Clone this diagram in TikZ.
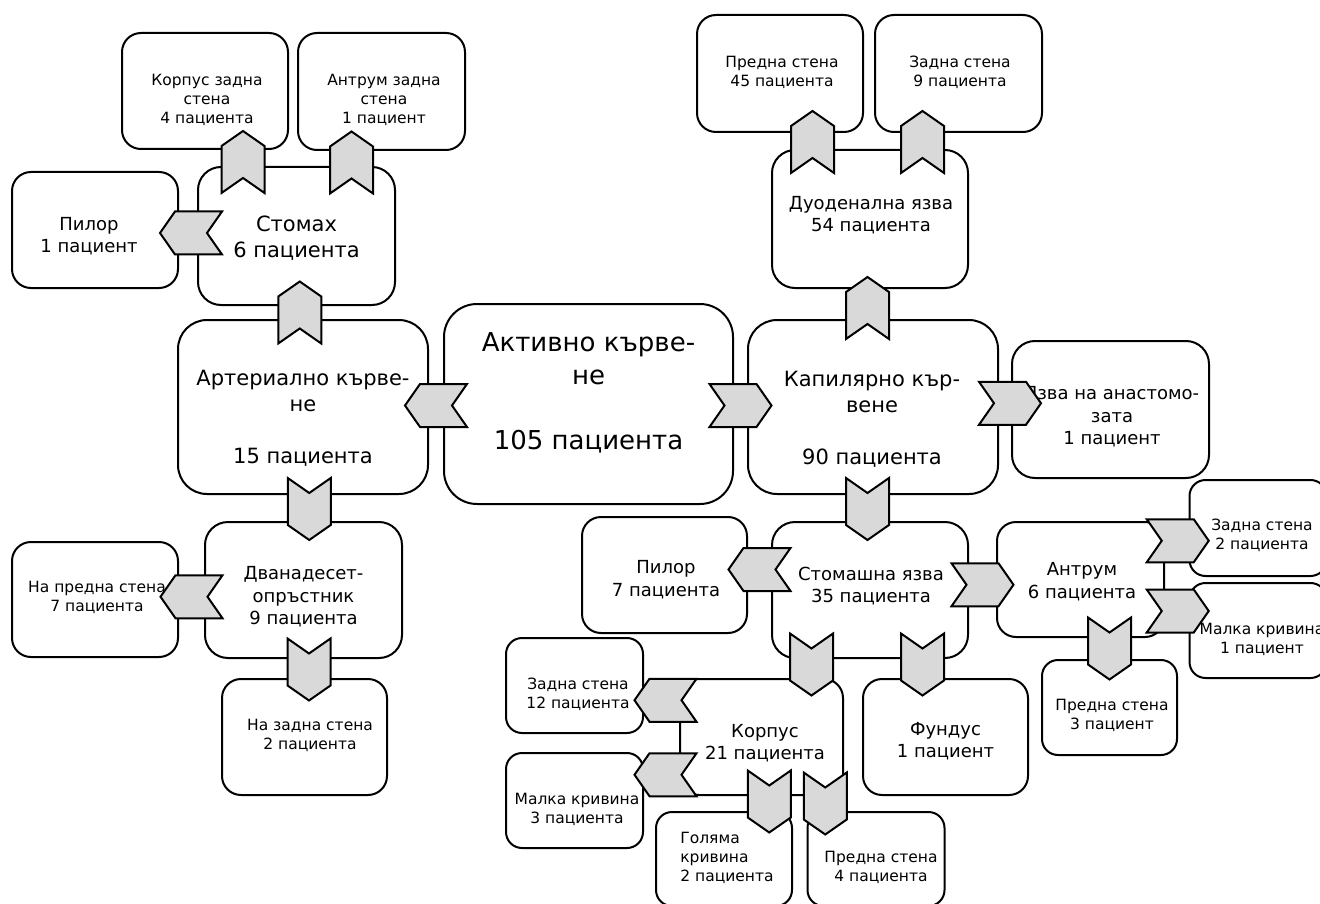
\documentclass[tikz,border=0pt]{standalone}
\usepackage{fontspec}
\setmainfont{DejaVu Sans}
\usetikzlibrary{calc}

\begin{document}
\begin{tikzpicture}[
    x=1pt, y=-1pt,
    box/.style={draw, line width=2pt, fill=white, rounded corners=19pt, minimum width=166pt, minimum height=116pt},
    bigbox/.style={box, rounded corners=29pt, minimum width=250pt, minimum height=174pt},
    midbox/.style={box, rounded corners=23pt, minimum width=197pt, minimum height=137pt},
    smallbox/.style={box, rounded corners=16pt, minimum width=137pt, minimum height=95pt},
    sm/.style={align=center, inner sep=0pt, font=\fontsize{15.5}{19}\selectfont},
    md/.style={align=center, inner sep=0pt, font=\fontsize{18}{22.5}\selectfont},
    lg/.style={align=center, inner sep=0pt, font=\fontsize{21}{26}\selectfont},
    xl/.style={align=center, inner sep=0pt, font=\fontsize{26}{32.5}\selectfont},
    chev/.pic={\draw[line width=2pt, fill=gray!30] (-31,-21.5) -- (16,-21.5) -- (31,0) -- (16,21.5) -- (-31,21.5) -- (-16,0) -- cycle;}
]
\useasboundingbox (0,0) rectangle (1320,904);

% boxes
\node[box, minimum width=289pt, minimum height=200pt, rounded corners=33pt] (act) at (588.5,404) {};
\node[bigbox] (art) at (303,407) {};
\node[bigbox] (cap) at (873,407) {};
\node[midbox, minimum height=138pt] (stom) at (296.5,236) {};
\node[box] (pilor1) at (95,230) {};
\node[box] (kzs) at (205,91) {};
\node[box, minimum width=167pt, minimum height=117pt] (azs) at (381.5,91.5) {};
\node[midbox, minimum height=136pt] (duod12) at (303.5,590) {};
\node[box, minimum height=115pt] (npred) at (95,599.5) {};
\node[box, minimum width=165pt] (nzad) at (304.5,737) {};
\node[midbox, minimum width=196pt, minimum height=138pt] (duo) at (870,219) {};
\node[box, minimum height=117pt] (pred45) at (780,73.5) {};
\node[box, minimum width=167pt, minimum height=117pt] (zad9) at (958.5,73.5) {};
\node[midbox] (anast) at (1110.5,409.5) {};
\node[midbox, minimum width=196pt, minimum height=136pt] (stomulc) at (870,590) {};
\node[box, minimum width=165pt] (pilor7) at (664.5,575) {};
\node[box, minimum width=167pt, minimum height=115pt] (antrum) at (1080.5,579.5) {};
\node[smallbox, minimum height=96pt] (zad2) at (1258,528) {};
\node[smallbox] (malka1) at (1258,630.5) {};
\node[smallbox, minimum width=135pt] (pred3) at (1109.5,707.5) {};
\node[box, minimum width=165pt] (fundus) at (945.5,737) {};
\node[box, minimum width=163pt] (korpus) at (761.5,737) {};
\node[smallbox] (zad12) at (574.5,685.5) {};
\node[smallbox] (malka3) at (574.5,800.5) {};
\node[smallbox, minimum width=136pt, minimum height=94pt] (golyama) at (724,859) {};
\node[smallbox, minimum height=94pt] (pred4) at (876,859) {};

% texts
\node[xl] (act-t) at ($(act)+(0,-11)$) {Активно кърве-\\не\\[32.5pt]105 пациента};
\node[lg] (art-t) at ($(art)+(0,11.5)$) {Артериално кърве-\\не\\[26pt]15 пациента};
\node[lg] (cap-t) at ($(cap)+(-1,12)$) {Капилярно кър-\\вене\\[26pt]90 пациента};
\node[lg] (stom-t) at ($(stom)+(0,2.5)$) {Стомах\\6 пациента};
\node[md] (pilor1-t) at ($(pilor1)+(-6,6)$) {Пилор\\1 пациент};
\node[sm] (kzs-t) at ($(kzs)+(2,9)$) {Корпус задна\\стена\\4 пациента};
\node[sm] (azs-t) at ($(azs)+(2.5,8.5)$) {Антрум задна\\стена\\1 пациент};
\node[md] (duod12-t) at ($(duod12)+(0,7)$) {Дванадесет-\\опръстник\\9 пациента};
\node[sm] (npred-t) at ($(npred)+(2,-2)$) {На предна стена\\7 пациента};
\node[sm] (nzad-t) at ($(nzad)+(5.5,-1.5)$) {На задна стена\\2 пациента};
\node[md] (duo-t) at ($(duo)+(1,-4)$) {Дуоденална язва\\54 пациента};
\node[sm] (pred45-t) at ($(pred45)+(2,-1)$) {Предна стена\\45 пациента};
\node[sm] (zad9-t) at ($(zad9)+(1.5,-1)$) {Задна стена\\9 пациента};
\node[md] (anast-t) at ($(anast)+(1.5,7.5)$) {Язва на анастомо-\\зата\\1 пациент};
\node[md] (stomulc-t) at ($(stomulc)+(1,-4)$) {Стомашна язва\\35 пациента};
\node[md] (pilor7-t) at ($(pilor7)+(1.5,4.5)$) {Пилор\\7 пациента};
\node[md] (antrum-t) at ($(antrum)+(1.5,2)$) {Антрум\\6 пациента};
\node[sm] (zad2-t) at ($(zad2)+(4,7.5)$) {Задна стена\\2 пациента};
\node[sm] (malka1-t) at ($(malka1)+(4,9)$) {Малка кривина\\1 пациент};
\node[sm] (pred3-t) at ($(pred3)+(2.5,8)$) {Предна стена\\3 пациент};
\node[md] (fundus-t) at ($(fundus)+(0,4)$) {Фундус\\1 пациент};
\node[md] (korpus-t) at ($(korpus)+(3.5,6)$) {Корпус\\21 пациента};
\node[sm] (zad12-t) at ($(zad12)+(3.5,9)$) {Задна стена\\12 пациента};
\node[sm] (malka3-t) at ($(malka3)+(2.5,8.5)$) {Малка кривина\\3 пациента};
\node[sm, align=left] (golyama-t) at ($(golyama)+(3,-1)$) {Голяма\\кривина\\2 пациента};
\node[sm] (pred4-t) at ($(pred4)+(5,8.5)$) {Предна стена\\4 пациента};

% chevrons
\pic[rotate=180] at ($(act.west)!.5!(art.east)$) {chev};
\pic at ($(act.east)!.5!(cap.west)$) {chev};
\pic at ($(cap.east)!.5!(anast.west)+(5,-5)$) {chev};
\pic[rotate=90] at ($(art.north)!.5!(stom.south)$) {chev};
\pic[rotate=180] at ($(stom.west)!.5!(pilor1.east)+(3,0)$) {chev};
\pic[rotate=90] at ($(stom.north west)!.5!(kzs.south east)+(0,4)$) {chev};
\pic[rotate=90] at ($(stom.north east)!.5!(azs.south west)+(5,4)$) {chev};
\pic[rotate=-90] at ($(art.south)!.5!(duod12.north)+(6,1)$) {chev};
\pic[rotate=180] at ($(duod12.west)!.5!(npred.east)+(0,2)$) {chev};
\pic[rotate=-90] at ($(duod12.south)!.5!(nzad.north)+(5,1)$) {chev};
\pic[rotate=90] at ($(cap.north)!.5!(duo.south)+(-4,4)$) {chev};
\pic[rotate=90] at ($(duo.north west)!.5!(pred45.south east)+(-5,1)$) {chev};
\pic[rotate=90] at ($(duo.north east)!.5!(zad9.south west)+(1,1)$) {chev};
\pic[rotate=-90] at ($(cap.south)!.5!(stomulc.north)+(-4,1)$) {chev};
\pic[rotate=180] at ($(stomulc.west)!.5!(pilor7.east)+(0,-13)$) {chev};
\pic at ($(stomulc.east)!.5!(antrum.west)$) {chev};
\pic[rotate=-90] at ($(stomulc.south west)!.5!(korpus.north east)+(4,-4)$) {chev};
\pic[rotate=-90] at ($(stomulc.south east)!.5!(fundus.north west)+(7,-4)$) {chev};
\pic at ($(antrum.east)!.5!(zad2.west)+(1,-13)$) {chev};
\pic at ($(antrum.east)!.5!(malka1.west)+(1,6)$) {chev};
\pic[rotate=-90] at ($(antrum.south -| pred3.north)!.5!(pred3.north)$) {chev};
\pic[rotate=180] at ($(korpus.west)!.5!(zad12.east)+(4,-11)$) {chev};
\pic[rotate=180] at ($(korpus.west)!.5!(malka3.east)+(4,6)$) {chev};
\pic[rotate=-90] at ($(korpus.south)!.5!(golyama.north east)+(-8,-2)$) {chev};
\pic[rotate=-90] at ($(korpus.south east)!.5!(pred4.north west)$) {chev};
\end{tikzpicture}
\end{document}
